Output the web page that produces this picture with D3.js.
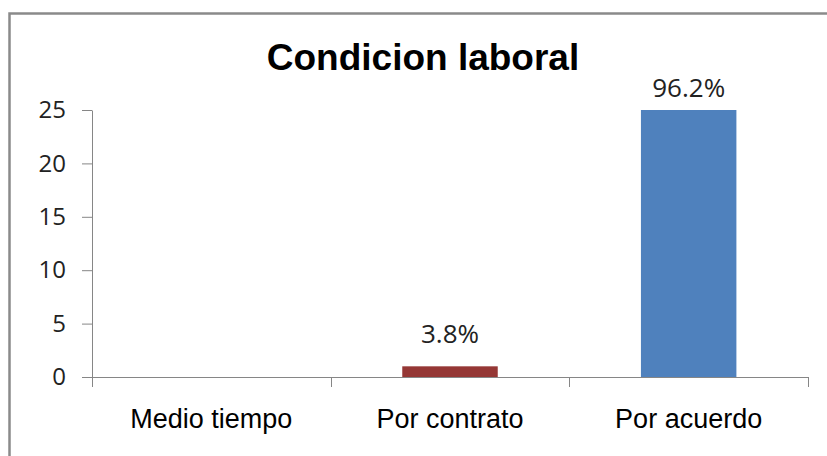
<!DOCTYPE html>
<html>
<head>
<meta charset="utf-8">
<script src="https://cdn.jsdelivr.net/npm/d3@7"></script>
<style>
  body { margin: 0; background: #fff; }
  svg { display: block; }
</style>
</head>
<body>
<div id="chart"></div>
<script>

var title = "Condicion laboral";
var categories = ["Medio tiempo", "Por contrato", "Por acuerdo"];
var values = [0, 1, 25];
var labels = ["", "3.8%", "96.2%"];
var colors = ["#4f81bd", "#953735", "#4f81bd"];
var yTicks = [0, 5, 10, 15, 20, 25];

var W = 827, H = 456;
var margin = {top: 110, right: 19, bottom: 79, left: 92},
    width = W - margin.left - margin.right,
    height = H - margin.top - margin.bottom;

var svg = d3.select("#chart")
  .append("svg")
    .attr("width", W)
    .attr("height", H);

// chart frame (runs off the right and bottom edges)
svg.append("rect")
    .attr("x", 9.5).attr("y", 13.5)
    .attr("width", W + 20).attr("height", H + 20)
    .attr("fill", "none")
    .attr("stroke", "#8a8a8a")
    .attr("stroke-width", 2.5);

svg.append("text")
    .attr("x", 423).attr("y", 70)
    .attr("text-anchor", "middle")
    .style("font-family", "'Liberation Sans', Arial, sans-serif")
    .style("font-weight", "bold")
    .style("font-size", "37px")
    .text(title);

var g = svg.append("g")
    .attr("transform", "translate(" + margin.left + "," + margin.top + ")");

var x = d3.scaleBand()
    .domain(categories)
    .range([0, width])
    .paddingInner(0.6)
    .paddingOuter(0.3);

var y = d3.scaleLinear()
    .domain([0, 25])
    .range([height, 0]);

// y axis
var yAxis = g.append("g")
    .call(d3.axisLeft(y).tickValues(yTicks).tickSize(10).tickPadding(16).tickSizeOuter(0));
yAxis.select(".domain").attr("stroke", "#868686");
yAxis.selectAll(".tick line").attr("stroke", "#868686");
yAxis.selectAll(".tick text")
    .attr("fill", "#222")
    .style("font-family", "'Open Sans', sans-serif")
    .style("font-size", "24px");

// bars
g.selectAll("rect.bar")
  .data(values)
  .enter()
  .append("rect")
    .attr("class", "bar")
    .attr("x", function(d, i) { return x(categories[i]); })
    .attr("y", function(d) { return y(d); })
    .attr("width", x.bandwidth())
    .attr("height", function(d) { return height - y(d); })
    .attr("fill", function(d, i) { return colors[i]; });

// x axis line and category boundary ticks
g.append("line")
    .attr("x1", 0).attr("x2", width)
    .attr("y1", height + 0.5).attr("y2", height + 0.5)
    .attr("stroke", "#868686");

var bounds = d3.range(categories.length + 1).map(function(i) { return i * width / categories.length; });
g.selectAll("line.xtick")
  .data(bounds)
  .enter()
  .append("line")
    .attr("class", "xtick")
    .attr("x1", function(d) { return Math.round(d) + 0.5; })
    .attr("x2", function(d) { return Math.round(d) + 0.5; })
    .attr("y1", height)
    .attr("y2", height + 10)
    .attr("stroke", "#868686");

g.selectAll("text.cat")
  .data(categories)
  .enter()
  .append("text")
    .attr("class", "cat")
    .attr("x", function(d) { return x(d) + x.bandwidth() / 2; })
    .attr("y", height + 51)
    .attr("text-anchor", "middle")
    .style("font-family", "'Liberation Sans', Arial, sans-serif")
    .style("font-size", "27px")
    .text(function(d) { return d; });

// data labels
g.selectAll("text.lbl")
  .data(values)
  .enter()
  .append("text")
    .attr("class", "lbl")
    .attr("x", function(d, i) { return x(categories[i]) + x.bandwidth() / 2; })
    .attr("y", function(d) { return Math.min(y(d) - 13, height - 34); })
    .attr("text-anchor", "middle")
    .attr("fill", "#222")
    .style("font-family", "'Open Sans', sans-serif")
    .style("font-size", "26px")
    .text(function(d, i) { return labels[i]; });

</script>
</body>
</html>
